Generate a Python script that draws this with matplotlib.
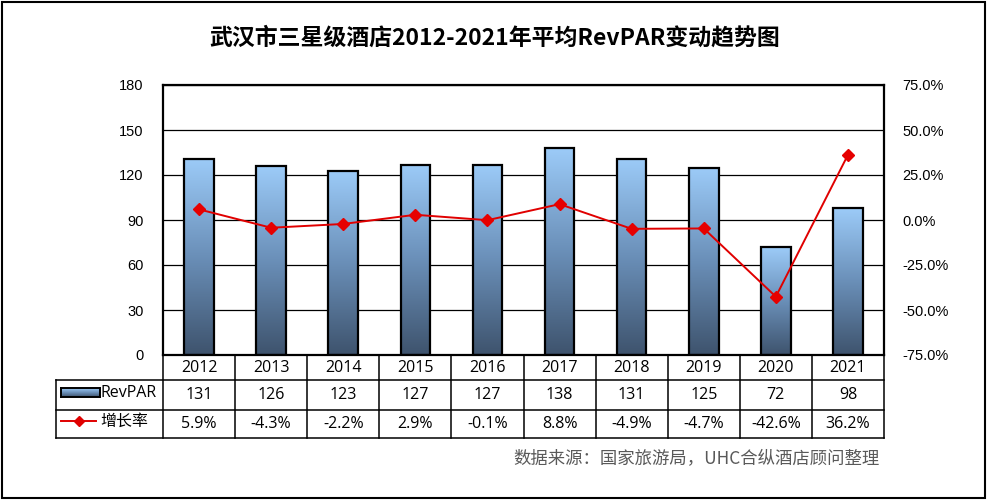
import matplotlib
matplotlib.use("Agg")
import matplotlib.pyplot as plt
import numpy as np
from matplotlib.patches import Rectangle
from matplotlib.lines import Line2D
from matplotlib.colors import LinearSegmentedColormap
from matplotlib.transforms import blended_transform_factory

plt.rcParams['font.family'] = ['Noto Sans CJK SC', 'DejaVu Sans']

years = ['2012', '2013', '2014', '2015', '2016', '2017', '2018', '2019', '2020', '2021']
revpar = [131, 126, 123, 127, 127, 138, 131, 125, 72, 98]
growth = [5.9, -4.3, -2.2, 2.9, -0.1, 8.8, -4.9, -4.7, -42.6, 36.2]
left_ticks = [0, 30, 60, 90, 120, 150, 180]
right_ticks = [-75, -50, -25, 0, 25, 50, 75]
title = '武汉市三星级酒店2012-2021年平均RevPAR变动趋势图'
source = '数据来源：国家旅游局，UHC合纵酒店顾问整理'

TF = ['Open Sans', 'Noto Sans CJK SC', 'DejaVu Sans']

W, H = 988, 500
fig = plt.figure(figsize=(W / 100, H / 100), dpi=100)
L, R, T, B = 163, 884, 85, 355
ax = fig.add_axes([L / W, 1 - B / H, (R - L) / W, (B - T) / H])
ax2 = ax.twinx()

cmap = LinearSegmentedColormap.from_list('bar', ['#3e536d', '#6a8fb8', '#9ccbf8'])
grad = np.linspace(0, 1, 256).reshape(-1, 1)

x = np.arange(len(years))
bw = 0.41
bars = ax.bar(x, revpar, width=bw, facecolor='none', edgecolor='black', linewidth=1.6, zorder=3)
for b in bars:
    x0, y0 = b.get_x(), b.get_y()
    im = ax.imshow(grad, cmap=cmap, origin='lower', aspect='auto',
                   extent=[x0, x0 + b.get_width(), y0, y0 + b.get_height()], zorder=2)
    im.set_clip_path(b)

ax.set_xlim(-0.5, len(years) - 0.5)
ax.set_ylim(0, 180)
ax.set_yticks(left_ticks)
ax.set_yticklabels([str(v) for v in left_ticks], fontfamily='Liberation Sans', fontsize=10.5)
ax.set_xticks([])
ax.tick_params(axis='y', length=0, pad=14)
ax.grid(axis='y', color='black', linewidth=0.9, zorder=1)
ax.set_axisbelow(True)
for s in ax.spines.values():
    s.set_linewidth(1.6)

ax2.plot(x, growth, color='#e00000', linewidth=1.4, marker='D', markersize=6.5,
         markerfacecolor='#e60000', markeredgecolor='#e60000', zorder=5)
ax2.set_ylim(-75, 75)
ax2.set_yticks(right_ticks)
ax2.set_yticklabels([f'{v:.1f}%' for v in right_ticks], fontfamily='Liberation Sans', fontsize=10.5)
ax2.tick_params(axis='y', length=0, pad=13)
for s in ax2.spines.values():
    s.set_visible(False)
ax.set_zorder(1)
ax2.set_zorder(2)
ax2.patch.set_visible(False)

# data table
tr = blended_transform_factory(ax.transData, ax.transAxes)
ph = B - T
def ya(py):
    return -(py - B) / ph
y_r1, y_r2, y_r3 = ya(380), ya(410), ya(438)
xl = -0.5 - (L - 56) / ((R - L) / len(years))
lw = 1.1
def line(xs, ys):
    ax.add_line(Line2D(xs, ys, transform=tr, color='black', linewidth=lw, clip_on=False))
line([xl, 9.5], [y_r1, y_r1])
line([xl, 9.5], [y_r2, y_r2])
line([xl, 9.5], [y_r3, y_r3])
line([xl, xl], [y_r1, y_r3])
for i in range(len(years) + 1):
    line([i - 0.5, i - 0.5], [0, y_r3])
for i, yv in enumerate(years):
    ax.text(i, (0 + y_r1) / 2, yv, transform=tr, ha='center', va='center', fontsize=11.5, family=TF)
    ax.text(i, (y_r1 + y_r2) / 2, str(revpar[i]), transform=tr, ha='center', va='center', fontsize=11.5, family=TF)
    ax.text(i, (y_r2 + y_r3) / 2, f'{growth[i]:.1f}%', transform=tr, ha='center', va='center', fontsize=11.5, family=TF)

# legend keys in table
def fx(px):
    return px / W
def fy(py):
    return 1 - py / H
keyax = fig.add_axes([fx(61), fy(397), fx(100) - fx(61), fy(388) - fy(397)])
keyax.imshow(grad, cmap=cmap, origin='lower', aspect='auto', extent=[0, 1, 0, 1])
keyax.set_xticks([]); keyax.set_yticks([])
for s in keyax.spines.values():
    s.set_linewidth(1.4)
fig.text(fx(101), fy(393), 'RevPAR', ha='left', va='center', fontsize=11.5, family=TF)
fig.add_artist(Line2D([fx(61), fx(96)], [fy(421), fy(421)], color='#e00000', linewidth=1.4,
                      transform=fig.transFigure))
fig.add_artist(Line2D([fx(78.5)], [fy(421)], color='#e00000', marker='D', markersize=5,
                      transform=fig.transFigure))
fig.text(fx(100), fy(422), '增长率', ha='left', va='center', fontsize=11.5, family=TF)

fig.text(fx(495), fy(38), title, ha='center', va='center', fontsize=16.5, fontweight='bold')
fig.text(fx(880), fy(459), source, ha='right', va='center', fontsize=12.5, color='#595959')

fig.add_artist(Rectangle((0.002, 0.004), 0.995, 0.993, transform=fig.transFigure,
                         fill=False, edgecolor='black', linewidth=1.5))

fig.savefig('out.png', dpi=100)
